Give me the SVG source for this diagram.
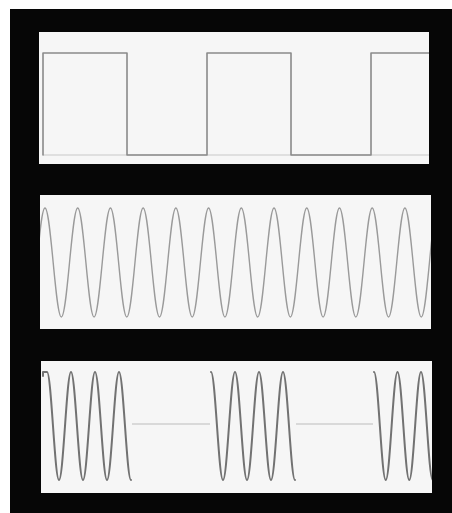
<svg xmlns="http://www.w3.org/2000/svg" width="452" height="513" viewBox="0 0 452 513">
  <style>
    .panel { fill: #f6f6f6; }
    .wave { fill: none; stroke-linejoin: round; stroke-linecap: round; }
    .sq { stroke: #8a8a8a; stroke-width: 1.6; }
    .base { stroke: #c8c8c8; stroke-width: 1.2; fill: none; }
    .sine { stroke: #9a9a9a; stroke-width: 1.4; }
    .ask { stroke: #727272; stroke-width: 2; }
    .flat { stroke: #cfcfcf; stroke-width: 1.6; fill: none; }
  </style>
  <defs>
    <clipPath id="c1"><rect x="39" y="32" width="390" height="132"/></clipPath>
    <clipPath id="c2"><rect x="40" y="195" width="391" height="134"/></clipPath>
    <clipPath id="c3"><rect x="41" y="361" width="391" height="132"/></clipPath>
  </defs>
  <rect x="0" y="0" width="452" height="513" fill="#ffffff"/>
  <rect x="10" y="9" width="442" height="504" fill="#060606"/>

  <g id="panel-square">
    <rect class="panel" x="39" y="32" width="390" height="132"/>
    <g clip-path="url(#c1)">
      <path class="base" d="M43,155 H429"/>
      <path class="wave sq" d="M43,155 V53 H127 V155 H207 V53 H291 V155 H371 V53 H432"/>
    </g>
  </g>

  <g id="panel-sine">
    <rect class="panel" x="40" y="195" width="391" height="134"/>
    <g clip-path="url(#c2)">
      <path class="wave sine" d="M12.27,208 c5.95,0 10.41,109 16.36,109 s10.41,-109 16.36,-109 s10.41,109 16.36,109 s10.41,-109 16.36,-109 s10.41,109 16.36,109 s10.41,-109 16.36,-109 s10.41,109 16.36,109 s10.41,-109 16.36,-109 s10.41,109 16.36,109 s10.41,-109 16.36,-109 s10.41,109 16.36,109 s10.41,-109 16.36,-109 s10.41,109 16.36,109 s10.41,-109 16.36,-109 s10.41,109 16.36,109 s10.41,-109 16.36,-109 s10.41,109 16.36,109 s10.41,-109 16.36,-109 s10.41,109 16.36,109 s10.41,-109 16.36,-109 s10.41,109 16.36,109 s10.41,-109 16.36,-109 s10.41,109 16.36,109 s10.41,-109 16.36,-109 s10.41,109 16.36,109 s10.41,-109 16.36,-109"/>
    </g>
  </g>

  <g id="panel-ask">
    <rect class="panel" x="41" y="361" width="391" height="132"/>
    <g clip-path="url(#c3)">
      <path class="flat" d="M132,424 H210 M296,424 H373"/>
      <path class="wave ask" d="M43,376 V372 H47 c4.36,0 7.64,108 12,108 s7.64,-108 12,-108 s7.64,108 12,108 s7.64,-108 12,-108 s7.64,108 12,108 s7.64,-108 12,-108 s7.64,108 12,108"/>
      <path class="wave ask" d="M211,372 c4.36,0 7.64,108 12,108 s7.64,-108 12,-108 s7.64,108 12,108 s7.64,-108 12,-108 s7.64,108 12,108 s7.64,-108 12,-108 s7.64,108 12,108"/>
      <path class="wave ask" d="M374,372 c4.27,0 7.48,108 11.75,108 s7.48,-108 11.75,-108 s7.48,108 11.75,108 s7.48,-108 11.75,-108 s7.48,108 11.75,108"/>
    </g>
  </g>
</svg>
